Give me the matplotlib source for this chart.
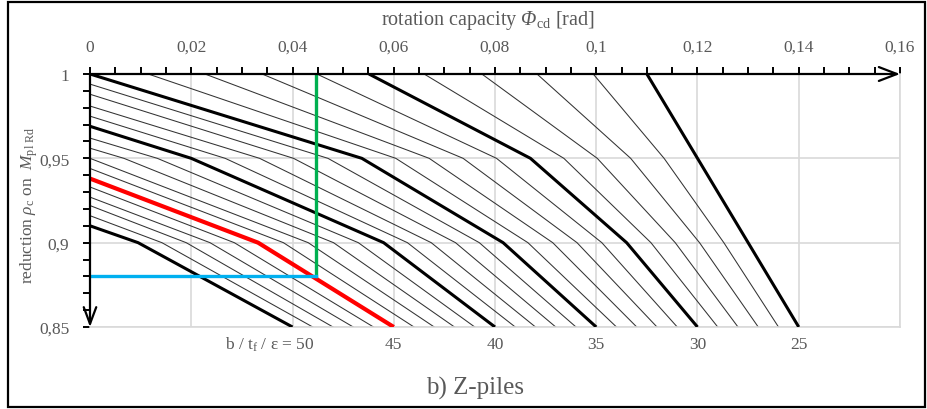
import matplotlib
matplotlib.use("Agg")
import matplotlib.pyplot as plt
from matplotlib.patches import Rectangle

# b / tf / eps value of each curve
ratios = [25, 26, 27, 28, 29, 30, 31, 32, 33, 34, 35, 36, 37, 38, 39,
          40, 41, 42, 43, 44, 45, 46, 47, 48, 49, 50]

# where a curve starts on the top edge (rho = 1)
x_top = [0.110, 0.0994, 0.0883, 0.0774, 0.0660, 0.0551, 0.0448, 0.0340,
         0.0227, 0.0115, 0.0,
         None, None, None, None, None, None, None, None, None, None,
         None, None, None, None, None]
# where a curve starts on the left edge (phi = 0)
y_left = [None, None, None, None, None, None, None, None, None, None, None,
          0.994, 0.988, 0.981, 0.975, 0.969, 0.962, 0.956, 0.950, 0.944,
          0.938, 0.933, 0.927, 0.922, 0.916, 0.910]
# rotation capacity at rho = 0.95 / 0.90 / 0.85
x_095 = [0.120, 0.1134, 0.1068, 0.1002, 0.0936, 0.0870, 0.0803, 0.0737,
         0.0670, 0.0604, 0.0537, 0.0470, 0.0402, 0.0335, 0.0267, 0.0200,
         0.0133, 0.0067, None, None, None, None, None, None, None, None]
x_090 = [0.1300, 0.1252, 0.1204, 0.1156, 0.1108, 0.1060, 0.1011, 0.0962,
         0.0914, 0.0865, 0.0816, 0.0769, 0.0722, 0.0674, 0.0627, 0.0580,
         0.0530, 0.0481, 0.0431, 0.0382, 0.0332, 0.0285, 0.0237, 0.0190,
         0.0142, 0.0095]
x_085 = [0.140, 0.136, 0.132, 0.128, 0.124, 0.120, 0.116, 0.112, 0.108,
         0.104, 0.100, 0.096, 0.092, 0.088, 0.084, 0.080, 0.076, 0.072,
         0.068, 0.064, 0.060, 0.056, 0.052, 0.048, 0.044, 0.040]

# design example (green / blue construction lines)
phi_example = 0.0446
rho_example = 0.88

x_ticks = [0, 0.02, 0.04, 0.06, 0.08, 0.1, 0.12, 0.14, 0.16]
x_ticklabels = ["0", "0,02", "0,04", "0,06", "0,08", "0,1", "0,12", "0,14", "0,16"]
y_ticks = [0.85, 0.9, 0.95, 1.0]
y_ticklabels = ["0,85", "0,9", "0,95", "1"]

labelled = [50, 45, 40, 35, 30, 25]
label_texts = ["b / t$_\\mathrm{f}$ / ε = 50", "45", "40", "35", "30", "25"]

grey_txt = "#595959"
grid_c = "#d9d9d9"

plt.rcParams["font.family"] = ["Liberation Serif", "DejaVu Serif"]
plt.rcParams["mathtext.fontset"] = "custom"
plt.rcParams["mathtext.rm"] = "Liberation Serif"
plt.rcParams["mathtext.it"] = "Liberation Serif:italic"
plt.rcParams["mathtext.bf"] = "Liberation Serif:bold"
plt.rcParams["mathtext.cal"] = "Liberation Serif:italic"  # used for the italic Phi

fig = plt.figure(figsize=(9.27, 4.10), dpi=100)
ax = fig.add_axes([90 / 927, 1 - 328 / 410, 810 / 927, 253 / 410])

# curves
for i, c in enumerate(ratios):
    xs, ys = [], []
    if y_left[i] is not None:
        xs.append(0.0); ys.append(y_left[i])
    else:
        xs.append(x_top[i]); ys.append(1.0)
    if x_095[i] is not None:
        xs.append(x_095[i]); ys.append(0.95)
    xs += [x_090[i], x_085[i]]
    ys += [0.90, 0.85]
    if c == 45:
        ax.plot(xs, ys, color="#ff0000", lw=3.0, zorder=4, solid_capstyle="butt")
    elif c % 5 == 0:
        ax.plot(xs, ys, color="black", lw=2.2, zorder=3, solid_capstyle="butt")
    else:
        ax.plot(xs, ys, color="#333333", lw=0.75, zorder=2)

ax.plot([phi_example, phi_example], [1.0, rho_example], color="#00b050", lw=2.4, zorder=5)
ax.plot([0, phi_example], [rho_example, rho_example], color="#00b0f0", lw=2.4, zorder=5)

ax.set_xlim(0, 0.16)
ax.set_ylim(0.85, 1.0)

ax.xaxis.tick_top()
ax.set_xticks(x_ticks)
ax.set_xticklabels(x_ticklabels)
ax.set_xticks([i * 0.005 for i in range(33)], minor=True)
ax.set_yticks(y_ticks)
ax.set_yticklabels(y_ticklabels)
ax.set_yticks([0.85 + i * 0.01 for i in range(16)], minor=True)
ax.tick_params(axis="x", which="both", direction="out", length=5, width=1.4,
               colors="black", labelcolor=grey_txt, labelsize=12.5, pad=9)
ax.tick_params(axis="y", which="both", direction="out", length=5, width=1.4,
               colors="black", labelcolor=grey_txt, labelsize=12.5, pad=10)

ax.grid(True, which="major", color=grid_c, lw=1.2, zorder=0)
ax.set_axisbelow(True)
for s in ["top", "left"]:
    ax.spines[s].set_visible(False)
for s in ["bottom", "right"]:
    ax.spines[s].set_color(grid_c)
    ax.spines[s].set_linewidth(1.2)

# axis lines with arrow heads
ax.annotate("", xy=(1.0, 1.0), xytext=(0, 1.0), xycoords="axes fraction",
            arrowprops=dict(arrowstyle="->,head_length=1.3,head_width=0.5",
                            color="black", lw=1.6, shrinkA=0, shrinkB=0),
            annotation_clip=False, zorder=6)
ax.annotate("", xy=(0, 0.0), xytext=(0, 1.0), xycoords="axes fraction",
            arrowprops=dict(arrowstyle="->,head_length=1.2,head_width=0.45",
                            color="black", lw=1.6, shrinkA=0, shrinkB=0),
            annotation_clip=False, zorder=6)

# curve labels under the bottom edge
for c, txt in zip(labelled, label_texts):
    xe = x_085[ratios.index(c)]
    if c == 50:
        ax.annotate(txt, xy=(xe, 0.85), xytext=(16, -12), textcoords="offset points",
                    ha="right", va="center", color=grey_txt, fontsize=12.5)
    else:
        ax.annotate(txt, xy=(xe, 0.85), xytext=(0, -12), textcoords="offset points",
                    ha="center", va="center", color=grey_txt, fontsize=12.5)

fig.text(488 / 927, 1 - 21 / 410, "rotation capacity $\\mathcal{Φ}_\\mathrm{cd}$ [rad]",
         ha="center", va="center", color=grey_txt, fontsize=14.5)
fig.text(29 / 927, 1 - 205 / 410, "reduction $\\rho_\\mathrm{c}$ on  $M_\\mathrm{pl\\ Rd}$",
         ha="center", va="center", rotation=90, color=grey_txt, fontsize=12.5)
fig.text(475 / 927, 1 - 388 / 410, "b) Z-piles", ha="center", va="center",
         color=grey_txt, fontsize=18)

fig.patches.append(Rectangle((8 / 927, 2 / 410), 917 / 927, 405 / 410,
                             transform=fig.transFigure, fill=False,
                             edgecolor="black", lw=1.6))

fig.savefig("out.png", dpi=100)
